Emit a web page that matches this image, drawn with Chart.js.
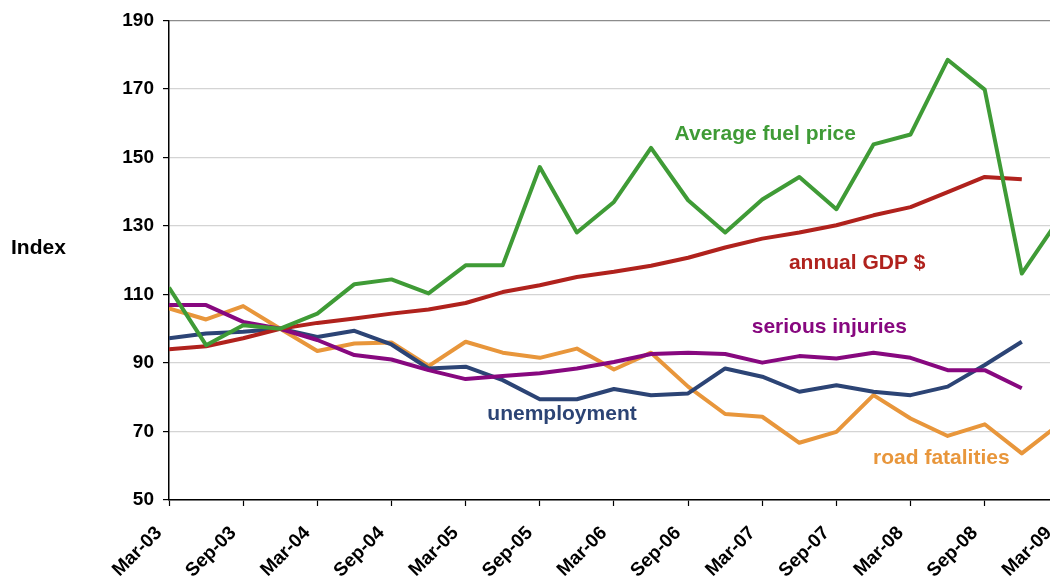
<!DOCTYPE html>
<html>
<head>
<meta charset="utf-8">
<script src="https://cdn.jsdelivr.net/npm/chart.js@4"></script>
<style>
  html, body { margin: 0; padding: 0; background: #fff; overflow: hidden; }
  #wrap { width: 1091px; height: 584px; position: relative; }
</style>
</head>
<body>
<div id="wrap"><canvas id="chart"></canvas></div>
<script>
// quarterly index, Dec-03 = 100
const quarters = ["Mar-03", "Jun-03", "Sep-03", "Dec-03", "Mar-04", "Jun-04", "Sep-04", "Dec-04",
  "Mar-05", "Jun-05", "Sep-05", "Dec-05", "Mar-06", "Jun-06", "Sep-06", "Dec-06",
  "Mar-07", "Jun-07", "Sep-07", "Dec-07", "Mar-08", "Jun-08", "Sep-08", "Dec-08", "Mar-09"];
const yTicks = [50, 70, 90, 110, 130, 150, 170, 190];

const fuelPrice = [112, 95.2, 101, 100, 104.4, 113, 114.4, 110.3, 118.5, 118.5, 147.2, 128.1, 137,
  152.8, 137.5, 128.1, 137.7, 144.3, 134.9, 153.8, 156.7, 178.5, 169.8, 116.1, 132];
const annualGdp = [94, 94.9, 97.2, 100, 101.7, 103, 104.4, 105.6, 107.5, 110.7, 112.7, 115.1, 116.6,
  118.4, 120.7, 123.7, 126.3, 128.1, 130.2, 133.1, 135.5, 139.9, 144.3, 143.6];
const seriousInjuries = [106.9, 106.9, 102, 100, 96.7, 92.3, 91, 87.9, 85.3, 86.2, 87, 88.4, 90.3,
  92.6, 93, 92.6, 90.1, 92, 91.3, 93, 91.5, 87.9, 87.9, 82.6];
const unemployment = [97.2, 98.6, 99.1, 100, 97.6, 99.4, 95.4, 88.4, 88.9, 85, 79.4, 79.4, 82.4,
  80.6, 81.1, 88.4, 86, 81.6, 83.5, 81.6, 80.6, 83.1, 89.4, 96.2];
const roadFatalities = [105.9, 102.7, 106.6, 100, 93.5, 95.7, 96, 89.1, 96.2, 93, 91.5, 94.2, 88.1,
  93, 83.1, 75.1, 74.3, 66.7, 69.9, 80.6, 73.8, 68.7, 72.1, 63.6, 72];

const seriesNames = ["Average fuel price", "annual GDP $", "serious injuries", "unemployment", "road fatalities"];
const seriesColors = ["#3f9b36", "#b0221d", "#87087f", "#2c4475", "#e8963b"];
// where each series name sits, in chart units (quarter index, index value)
const noteX = [16.08, 18.56, 17.81, 10.6, 20.83];
const noteY = [156.75, 119.1, 100.5, 75.1, 62.25];

const FONT = "'Liberation Sans', Arial, sans-serif";

function toPoints(arr) {
  return arr.map((v, i) => ({ x: i, y: v }));
}

const labelPlugin = {
  id: "seriesLabels",
  afterDatasetsDraw(chart) {
    const ctx = chart.ctx;
    const xs = chart.scales.x;
    const ys = chart.scales.y;
    ctx.save();
    ctx.font = "bold 21px " + FONT;
    ctx.textAlign = "center";
    ctx.textBaseline = "middle";
    seriesNames.forEach((name, i) => {
      ctx.fillStyle = seriesColors[i];
      ctx.fillText(name, xs.getPixelForValue(noteX[i]), ys.getPixelForValue(noteY[i]));
    });
    ctx.fillStyle = "#000";
    ctx.font = "bold 21px " + FONT;
    ctx.textAlign = "left";
    ctx.fillText("Index", 11, ys.getPixelForValue(123.5));
    ctx.restore();
  },
};

const allSeries = [fuelPrice, annualGdp, seriousInjuries, unemployment, roadFatalities];

new Chart(document.getElementById("chart"), {
  type: "line",
  data: {
    datasets: allSeries.map((s, i) => ({
      label: seriesNames[i],
      data: toPoints(s),
      borderColor: seriesColors[i],
      backgroundColor: seriesColors[i],
      borderWidth: 4,
      pointRadius: 0,
      tension: 0,
      borderJoinStyle: "round",
      fill: false,
    })),
  },
  options: {
    responsive: true,
    maintainAspectRatio: false,
    animation: false,
    layout: { padding: { top: 20, right: 16, left: 0, bottom: 0 } },
    plugins: { legend: { display: false }, tooltip: { enabled: false } },
    scales: {
      x: {
        type: "linear",
        min: 0,
        max: quarters.length - 1,
        afterFit: (scale) => { scale.height = 84; },
        border: { color: "#000", width: 1.5 },
        grid: { drawOnChartArea: false, drawTicks: true, tickLength: 6, tickColor: "#000", tickWidth: 1.2 },
        ticks: {
          stepSize: 2,
          autoSkip: false,
          minRotation: 45,
          maxRotation: 45,
          labelOffset: -10,
          padding: 16,
          color: "#000",
          font: { family: FONT, size: 19, weight: "bold" },
          callback: (v) => quarters[v] || "",
        },
      },
      y: {
        min: yTicks[0],
        max: yTicks[yTicks.length - 1],
        afterFit: (scale) => { scale.width = 169; },
        afterBuildTicks: (scale) => { scale.ticks = yTicks.map((v) => ({ value: v })); },
        border: { color: "#000", width: 1.5 },
        grid: {
          color: (c) => (c.tick && c.tick.value === 190 ? "#8c8c8c" : "#d4d4d4"),
          lineWidth: 1.2,
          tickLength: 6,
          tickColor: "#000",
        },
        ticks: {
          padding: 9,
          color: "#000",
          font: { family: FONT, size: 19, weight: "bold" },
        },
      },
    },
  },
  plugins: [labelPlugin],
});
</script>
</body>
</html>
